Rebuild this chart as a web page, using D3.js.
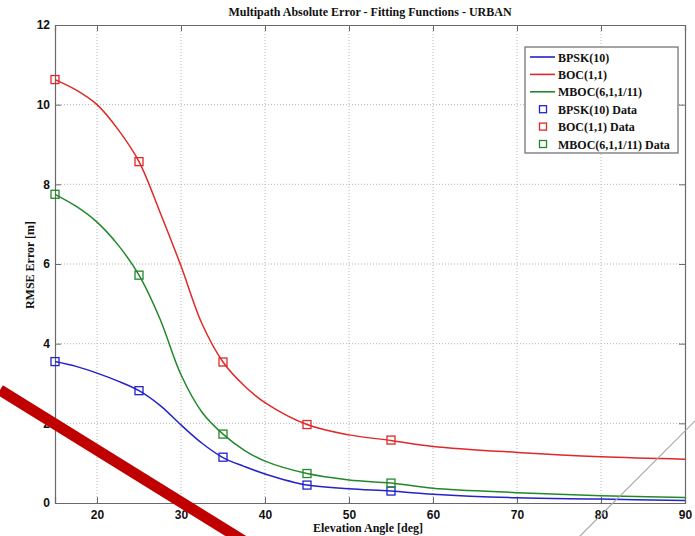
<!DOCTYPE html>
<html>
<head>
<meta charset="utf-8">
<script src="https://cdn.jsdelivr.net/npm/d3@7"></script>
<style>
  html, body { margin: 0; padding: 0; background: #fff; }
  svg { display: block; font-family: "Liberation Serif", "Times New Roman", serif; }
  .tick-label { font-size: 12px; font-weight: bold; fill: #111; }
</style>
</head>
<body>
<svg id="chart" width="695" height="536"></svg>
<script>
// Fitted RMSE curves, sampled along elevation angle (deg)
const fitAngles = [15, 17.5, 20, 22.5, 25, 27.5, 30, 32.5, 35, 37.5, 40, 45, 50, 55, 60, 70, 80, 90];
const bpskFit  = [3.55, 3.43, 3.26, 3.06, 2.82, 2.45, 1.96, 1.50, 1.14, 0.92, 0.73, 0.45, 0.36, 0.30, 0.22, 0.13, 0.10, 0.06];
const bocFit   = [10.63, 10.37, 10.0, 9.38, 8.57, 7.30, 5.95, 4.50, 3.54, 2.95, 2.52, 1.97, 1.71, 1.57, 1.42, 1.27, 1.16, 1.10];
const mbocFit  = [7.75, 7.45, 7.05, 6.48, 5.72, 4.62, 3.22, 2.28, 1.73, 1.33, 1.05, 0.74, 0.58, 0.50, 0.37, 0.26, 0.18, 0.14];

// Measured data points
const dataAngles = [15, 25, 35, 45, 55];
const bpskData = [3.55, 2.82, 1.15, 0.45, 0.30];
const bocData  = [10.63, 8.57, 3.54, 1.97, 1.58];
const mbocData = [7.75, 5.72, 1.73, 0.74, 0.50];

const xTicks = [20, 30, 40, 50, 60, 70, 80, 90];
const yTicks = [0, 2, 4, 6, 8, 10, 12];

const seriesNames = ["BPSK(10)", "BOC(1,1)", "MBOC(6,1,1/11)"];
const seriesColors = ["#2323c8", "#e02828", "#23882a"];

const titleText = "Multipath Absolute Error - Fitting Functions - URBAN";
const xLabelText = "Elevation Angle [deg]";
const yLabelText = "RMSE Error [m]";

const svg = d3.select("#chart");
const margin = { left: 55, right: 10, top: 25, bottom: 33 };
const W = 695, H = 536;
const x = d3.scaleLinear().domain([15, 90]).range([margin.left, W - margin.right]);
const y = d3.scaleLinear().domain([0, 12]).range([H - margin.bottom, margin.top]);

const fits = [bpskFit, bocFit, mbocFit];
const datas = [bpskData, bocData, mbocData];

// Grid
const grid = svg.append("g");
grid.selectAll(".gx").data(xTicks.filter(t => t < 90)).join("line")
  .attr("x1", d => x(d)).attr("x2", d => x(d))
  .attr("y1", y(0)).attr("y2", y(12))
  .attr("stroke", "#b4b4b4").attr("stroke-width", 1).attr("stroke-dasharray", "1,2");
grid.selectAll(".gy").data(yTicks.filter(t => t > 0 && t < 12)).join("line")
  .attr("x1", x(15)).attr("x2", x(90))
  .attr("y1", d => y(d)).attr("y2", d => y(d))
  .attr("stroke", "#b4b4b4").attr("stroke-width", 1).attr("stroke-dasharray", "1,2");

// Axes (ticks point inward, MATLAB style)
const xAxisB = d3.axisBottom(x).tickValues(xTicks).tickSize(-6).tickPadding(7).tickFormat(d3.format("d"));
const xAxisT = d3.axisTop(x).tickValues(xTicks).tickSize(-6).tickFormat("");
const yAxisL = d3.axisLeft(y).tickValues(yTicks).tickSize(-6).tickPadding(5).tickFormat(d3.format("d"));
const yAxisR = d3.axisRight(y).tickValues(yTicks).tickSize(-6).tickFormat("");

function styleAxis(g) {
  g.select(".domain").attr("stroke", "#6a6a6a").attr("stroke-width", 1.2);
  g.selectAll(".tick line").attr("stroke", "#6a6a6a");
  g.selectAll(".tick text").attr("class", "tick-label").attr("font-family", null).attr("font-size", null);
}
svg.append("g").attr("transform", `translate(0,${y(0)})`).call(xAxisB).call(styleAxis);
svg.append("g").attr("transform", `translate(0,${y(12)})`).call(xAxisT).call(styleAxis);
svg.append("g").attr("transform", `translate(${x(15)},0)`).call(yAxisL).call(styleAxis);
svg.append("g").attr("transform", `translate(${x(90)},0)`).call(yAxisR).call(styleAxis);

// Fitted curves
const line = d3.line()
  .x((d, i) => x(fitAngles[i]))
  .y(d => y(d))
  .curve(d3.curveCatmullRom.alpha(0.5));
fits.forEach((vals, k) => {
  svg.append("path").datum(vals)
    .attr("d", line)
    .attr("fill", "none")
    .attr("stroke", seriesColors[k])
    .attr("stroke-width", 1.5);
});

// Data markers
const ms = 8;
datas.forEach((vals, k) => {
  svg.append("g").selectAll("rect").data(vals).join("rect")
    .attr("x", (d, i) => x(dataAngles[i]) - ms / 2)
    .attr("y", d => y(d) - ms / 2)
    .attr("width", ms).attr("height", ms)
    .attr("fill", "none")
    .attr("stroke", seriesColors[k])
    .attr("stroke-width", 1.3);
});

// Title and axis labels
svg.append("text").attr("x", (x(15) + x(90)) / 2).attr("y", 16)
  .attr("text-anchor", "middle").attr("font-size", 12).attr("font-weight", "bold").attr("fill", "#111")
  .text(titleText);
svg.append("text").attr("x", (x(15) + x(90)) / 2 - 2).attr("y", 532)
  .attr("text-anchor", "middle").attr("font-size", 12).attr("font-weight", "bold").attr("fill", "#111")
  .text(xLabelText);
svg.append("text")
  .attr("transform", `translate(34,${(y(0) + y(12)) / 2 + 1}) rotate(-90)`)
  .attr("text-anchor", "middle").attr("font-size", 12).attr("font-weight", "bold").attr("fill", "#111")
  .text(yLabelText);

// Legend
const lg = svg.append("g").attr("transform", "translate(525,47)");
lg.append("rect").attr("width", 153).attr("height", 106)
  .attr("fill", "#fff").attr("stroke", "#6a6a6a").attr("stroke-width", 1.2);
const rowH = 17.4;
const entries = [
  ...seriesNames.map((n, k) => ({ label: n, color: seriesColors[k], kind: "line" })),
  ...seriesNames.map((n, k) => ({ label: n + " Data", color: seriesColors[k], kind: "marker" }))
];
entries.forEach((e, i) => {
  const cy = 10 + i * rowH;
  if (e.kind === "line") {
    lg.append("line").attr("x1", 5).attr("x2", 30).attr("y1", cy).attr("y2", cy)
      .attr("stroke", e.color).attr("stroke-width", 1.6);
  } else {
    lg.append("rect").attr("x", 18 - 3.5).attr("y", cy - 3.5).attr("width", 7).attr("height", 7)
      .attr("fill", "none").attr("stroke", e.color).attr("stroke-width", 1.3);
  }
  lg.append("text").attr("x", 33).attr("y", cy + 4.5)
    .attr("font-size", 12).attr("font-weight", "bold").attr("fill", "#111")
    .text(e.label);
});

// Annotation strokes laid over the figure
const strokes = [
  { x1: 0, y1: 390, x2: 260, y2: 551, color: "#c00000", width: 11 },
  { x1: 578, y1: 538, x2: 697, y2: 419, color: "#a8a8a8", width: 1.2 }
];
svg.append("g").selectAll("line").data(strokes).join("line")
  .attr("x1", d => d.x1).attr("y1", d => d.y1)
  .attr("x2", d => d.x2).attr("y2", d => d.y2)
  .attr("stroke", d => d.color).attr("stroke-width", d => d.width);
</script>
</body>
</html>
